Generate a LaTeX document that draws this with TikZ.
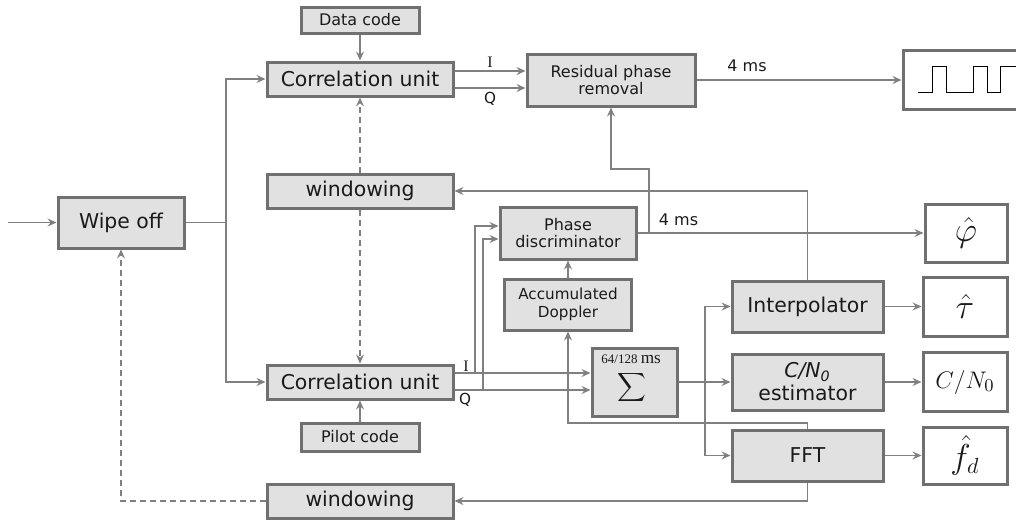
\documentclass[tikz,border=0pt]{standalone}
\usepackage{fontspec}
\setmainfont{DejaVu Sans}
\newfontfamily\labelserif{Liberation Serif}
\usetikzlibrary{arrows.meta}
\definecolor{boxline}{HTML}{707070}
\definecolor{boxfill}{HTML}{E1E1E1}
\definecolor{wirecol}{HTML}{808080}
\definecolor{ink}{HTML}{1A1A1A}

\begin{document}
\begin{tikzpicture}[x=0.5pt,y=-0.5pt,
  blk/.style={draw=boxline, line width=1.5pt, fill=boxfill, inner sep=0pt,
    text=ink, font=\fontsize{10.2}{11.5}\selectfont, align=center},
  outbox/.style={draw=boxline, line width=1.5pt, fill=white, inner sep=0pt,
    text=ink, font=\fontsize{13}{15}\selectfont},
  bigmath/.style={font=\fontsize{16}{18}\selectfont},
  small/.style={font=\fontsize{8}{8.9}\selectfont},
  sz/.style 2 args={minimum width=#1*0.5pt, minimum height=#2*0.5pt},
  wire/.style={draw=wirecol, line width=0.8pt},
  arr/.style={wire, -{Stealth[length=4.5pt,width=4pt,inset=1.6pt]}},
  dashline/.style={dash pattern=on 3pt off 2pt},
  lbl/.style={text=ink, inner sep=0pt},
]
\useasboundingbox (0,0) rectangle (1016,520);
\clip (0,0) rectangle (1016,520);

% ---------- blocks ----------
\node[blk, small, sz={118}{26}] (datacode) at (360,20) {Data code};
\node[blk, sz={186}{34}] (corrT) at (360,79) {Correlation unit};
\node[blk, sz={186}{34}] (windT) at (360,191) {windowing};
\node[blk, sz={126}{51}] (wipe) at (121,222.5) {Wipe off};
\node[blk, sz={186}{34}] (corrB) at (360,382) {Correlation unit};
\node[blk, small, sz={118}{28}] (pilot) at (360,437) {Pilot code};
\node[blk, sz={186}{34}] (windB) at (360,501) {windowing};

\node[blk, small, sz={168}{52}] (resid) at (611,80) {Residual phase\\removal};
\node[blk, small, sz={136}{52}] (phase) at (568,233) {Phase\\discriminator};
\node[blk, font=\fontsize{7.6}{9}\selectfont, sz={127}{51}] (accdop) at (568,304.5) {Accumulated\\Doppler};
\node[blk, sz={85}{68}] (sum) at (634.5,382) {};
\node[blk, sz={151}{51}] (interp) at (807.5,306.5) {Interpolator};
\node[blk, sz={151}{56}] (cn0est) at (807.5,382) {\textit{C/N\textsubscript{0}}\\estimator};
\node[blk, sz={151}{51}] (fft) at (807.5,455.5) {FFT};

% ---------- outputs ----------
\node[outbox, sz={127}{59}] (wave) at (966.5,80) {};
\node[outbox, bigmath, sz={82}{58}] (phihat) at (966,233) {$\hat{\varphi}$};
\node[outbox, bigmath, sz={84}{59}] (tauhat) at (965,306.5) {$\hat{\tau}$};
\node[outbox, sz={84}{59}] (cn0) at (965,382) {$C/N_0$};
\node[outbox, bigmath, sz={84}{57}] (fdhat) at (965,455.5) {$\hat{f}_d$};

% square wave in the data bit box
\draw[black, line width=0.5pt] (918,92) -- (932,92) -- (932,66) -- (946,66) -- (946,92)
  -- (973,92) -- (973,66) -- (987,66) -- (987,92) -- (1000,92) -- (1000,66) -- (1016,66);

% summation symbol and integration time
\node[lbl, anchor=base west] (sumtime) at (601,363)
  {\labelserif{\fontsize{6.5}{7}\selectfont 64/128}\,{\fontsize{8.6}{9}\selectfont ms}};
\node[lbl, font=\fontsize{10.8}{12}\selectfont] (sigma) at (631.5,387) {$\displaystyle\sum$};

% ---------- helper coordinates ----------
\coordinate (in) at (8,222.5);
\coordinate (split) at (226,222.5);
\coordinate (yI1) at (0,71);
\coordinate (yQ1) at (0,88);
\coordinate (yI2) at (0,373);
\coordinate (yQ2) at (0,390);
\coordinate (yPI) at (0,226);
\coordinate (yPQ) at (0,239);
\coordinate (Itap) at (475,373);
\coordinate (Qtap) at (483,390);
\coordinate (tap) at (649,233);
\coordinate (bend) at (611,169);
\coordinate (fan) at (705,382);
\coordinate (dopturn) at (568,423);

% ---------- connectors ----------
\draw[arr] (in) -- (wipe.west);
\draw[wire] (wipe.east) -- (split);
\draw[arr] (split) |- (corrT.west);
\draw[arr] (split) |- (corrB.west);
\draw[arr] (datacode) -- (corrT);
\draw[arr] (pilot) -- (corrB);
\draw[arr, dashline] (windT) -- (corrT);
\draw[arr, dashline] (windT) -- (corrB);
\draw[arr, dashline] (windB) -| (wipe);

\draw[arr] (corrT.east |- yI1) -- (resid.west |- yI1);
\draw[arr] (corrT.east |- yQ1) -- (resid.west |- yQ1);
\draw[arr] (resid.east) -- (wave.west);

\draw[arr] (corrB.east |- yI2) -- (sum.west |- yI2);
\draw[arr] (corrB.east |- yQ2) -- (sum.west |- yQ2);
\draw[arr] (Itap) |- (phase.west |- yPI);
\draw[arr] (Qtap) |- (phase.west |- yPQ);

\draw[arr] (phase.east) -- (phihat.west);
\draw[arr] (tap) |- (bend) -- (resid.south);
\draw[arr] (interp.north) |- (windT.east);
\draw[arr] (accdop) -- (phase);

\draw[arr] (sum.east) -- (cn0est.west);
\draw[arr] (fan) |- (interp.west);
\draw[arr] (fan) |- (fft.west);
\draw[arr] (fft.north) |- (dopturn) -- (accdop.south);
\draw[arr] (fft.south) |- (windB.east);

\draw[arr] (interp) -- (tauhat);
\draw[arr] (cn0est) -- (cn0);
\draw[arr] (fft) -- (fdhat);

% ---------- signal labels ----------
\node[lbl, font=\labelserif\fontsize{8}{9}\selectfont] (lI1) at (490,62.5) {I};
\node[lbl, font=\fontsize{7.6}{9}\selectfont] (lQ1) at (490,99) {Q};
\node[lbl, font=\labelserif\fontsize{8}{9}\selectfont] (lI2) at (466,366) {I};
\node[lbl, font=\fontsize{7.6}{9}\selectfont] (lQ2) at (465,400) {Q};
\node[lbl, small] (t1) at (747,65.5) {4 ms};
\node[lbl, small] (t2) at (678.5,220) {4 ms};
\end{tikzpicture}
\end{document}
